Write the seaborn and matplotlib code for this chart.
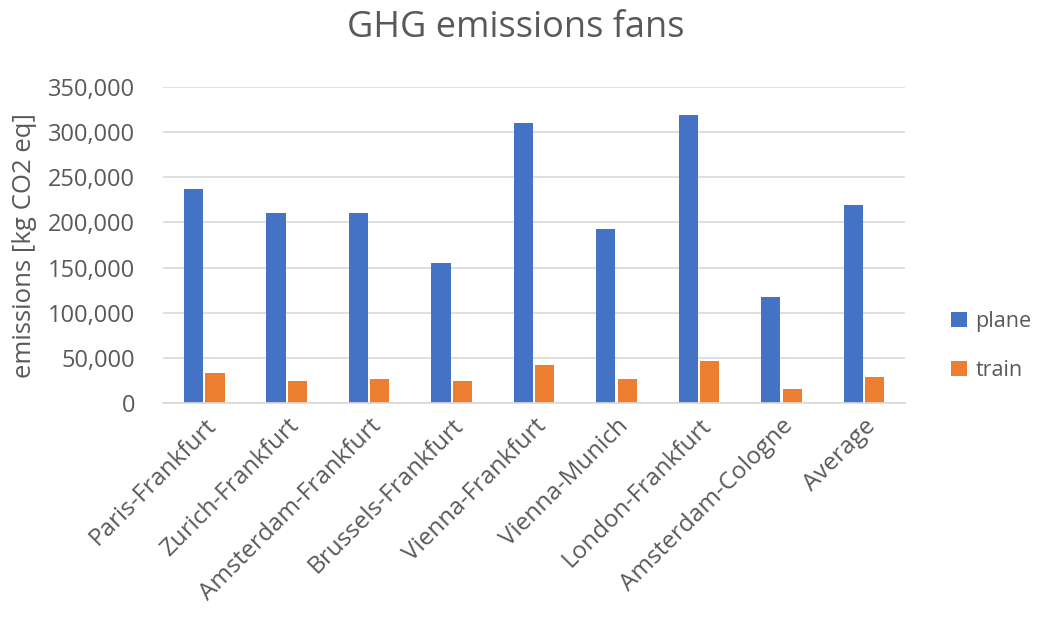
import matplotlib
matplotlib.use("Agg")
import matplotlib.pyplot as plt
import seaborn as sns
import pandas as pd
from matplotlib.ticker import FuncFormatter
from matplotlib.patches import Patch

routes = ["Paris-Frankfurt", "Zurich-Frankfurt", "Amsterdam-Frankfurt", "Brussels-Frankfurt",
          "Vienna-Frankfurt", "Vienna-Munich", "London-Frankfurt", "Amsterdam-Cologne", "Average"]
plane = [237000, 210500, 210500, 155000, 310000, 192700, 319300, 117400, 219300]
train = [33200, 24000, 26600, 24000, 42000, 26600, 46000, 15500, 28800]
series = ["plane", "train"]
colors = ["#4472C4", "#ED7D31"]

df = pd.DataFrame({
    "route": routes * 2,
    "mode": ["plane"] * len(routes) + ["train"] * len(routes),
    "value": plane + train,
})

sns.set_theme(style="white")
plt.rcParams['font.family'] = ['Open Sans', 'DejaVu Sans']
txt = "#595959"

fig = plt.figure(figsize=(10.38, 6.18), dpi=100)
ax = fig.add_axes([0.157, 0.348, 0.715, 0.511])

sns.barplot(data=df, x="route", y="value", hue="mode", hue_order=series,
            palette=colors, width=0.52, gap=0.1, saturation=1, ax=ax, legend=False,
            edgecolor="none")

ax.set_ylim(0, 350000)
ax.set_yticks(range(0, 350001, 50000))
ax.yaxis.set_major_formatter(FuncFormatter(lambda v, p: f"{int(v):,}"))
ax.grid(axis="y", color="#D9D9D9", linewidth=1.2)
ax.set_axisbelow(True)
for s in ["top", "right", "left"]:
    ax.spines[s].set_visible(False)
ax.spines["bottom"].set_color("#D9D9D9")
ax.spines["bottom"].set_linewidth(1.2)
ax.tick_params(axis="y", length=0, labelsize=17, colors=txt, pad=20)
ax.tick_params(axis="x", length=0, labelsize=17.5, colors=txt, pad=8)
plt.setp(ax.get_xticklabels(), rotation=45, ha="right", rotation_mode="anchor")
ax.set_xlabel("")
ax.set_ylabel("emissions [kg CO2 eq]", fontsize=18.5, color=txt, labelpad=8)
ax.set_xlim(-0.5, len(routes) - 0.5)

fig.text(0.497, 0.955, "GHG emissions fans", ha="center", va="center", fontsize=26, color=txt)

handles = [Patch(facecolor=c, edgecolor="none") for c in colors]
fig.legend(handles, series, loc="center left", bbox_to_anchor=(0.916, 0.44), frameon=False,
           fontsize=15.5, labelcolor=txt, handlelength=0.75, handleheight=0.75,
           labelspacing=1.3, handletextpad=0.4, borderpad=0.0, borderaxespad=0.0)

fig.savefig("out.png", dpi=100)
